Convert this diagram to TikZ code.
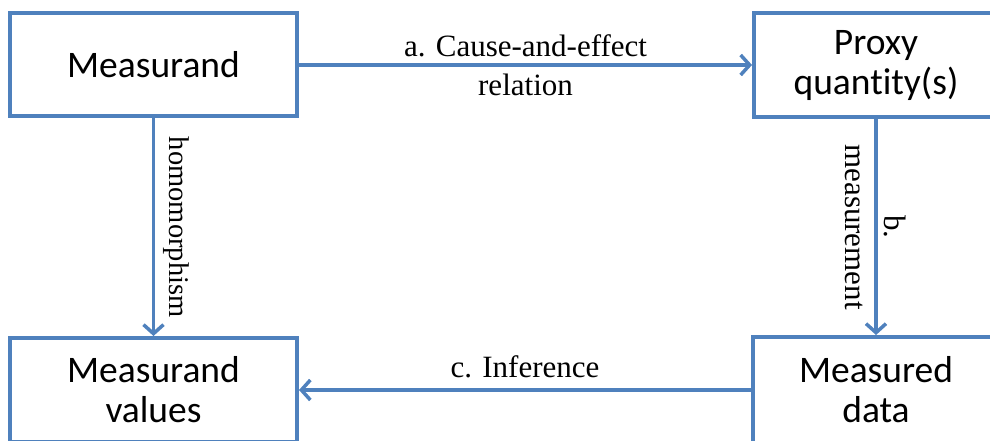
\documentclass[tikz,border=0pt]{standalone}
\usepackage{fontspec}
\setmainfont{Liberation Serif}
\newfontfamily\boxfont[Ligatures=NoCommon]{Carlito}
\usetikzlibrary{positioning,arrows.meta}
\definecolor{linkblue}{RGB}{79,129,189}

\begin{document}
\begin{tikzpicture}[x=1pt,y=-1pt,
  box/.style={draw=linkblue,line width=4pt,align=center,inner sep=0pt,
    font=\boxfont\fontsize{37.5}{40}\selectfont},
  link/.style={draw=linkblue,line width=3.5pt,-{Straight Barb[length=9pt,width=20pt]}},
  lab/.style={font=\fontsize{31}{39}\selectfont,inner sep=2pt,align=center}]
  \useasboundingbox (0,0) rectangle (990,441);
  \node[box,minimum width=287pt,minimum height=103pt] (meas) at (153.5,65) {Measurand};
  \node[box,minimum width=244pt,minimum height=104pt] (proxy) at (876,65) {Proxy\\quantity(s)};
  \node[box,minimum width=287pt,minimum height=104pt] (vals) at (153.5,390) {Measurand\\values};
  \node[box,minimum width=246pt,minimum height=106pt] (data) at (876,390) {Measured\\data};
  \draw[link] (meas.east) -- (proxy.west) node[lab,midway] {a. Cause-and-effect\\relation};
  \draw[link] (meas.south) -- (vals.north)
    node[lab,midway,sloped,above=6pt,font=\fontsize{28.5}{39}\selectfont] {homomorphism};
  \draw[link] (proxy.south) -- (data.north) node[lab,midway,sloped] {b.\\measurement};
  \draw[link] (data.west) -- (vals.east) node[lab,midway,above=8pt] {c. Inference};
\end{tikzpicture}
\end{document}
